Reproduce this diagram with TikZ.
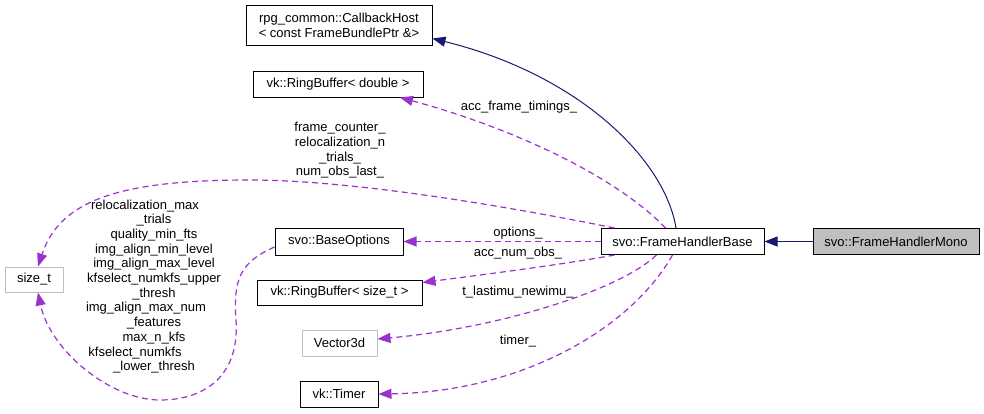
\documentclass[tikz,border=0pt]{standalone}
\usepackage{fontspec}
\setmainfont{Liberation Sans}
\usetikzlibrary{arrows.meta,calc}
\definecolor{navyedge}{HTML}{191970}
\definecolor{purpleedge}{HTML}{9A32CD}
\definecolor{grayline}{HTML}{BFBFBF}
\begin{document}
\begin{tikzpicture}[x=1pt,y=-1pt,
  every node/.style={font=\fontsize{13}{14.7}\selectfont},
  cls/.style={draw=black,line width=1pt,rectangle,inner sep=0pt,align=center},
  extcls/.style={draw=grayline,line width=1pt,rectangle,inner sep=0pt,align=center},
  inherit/.style={draw=navyedge,line width=1pt,-{Triangle[length=13pt,width=10pt]}},
  member/.style={draw=purpleedge,line width=1.2pt,dash pattern=on 6pt off 4pt,-{Triangle[length=13pt,width=10pt]}},
  lbl/.style={inner sep=0pt,align=center}]
\useasboundingbox (0,0) rectangle (984,413);
% nodes
\node[cls,minimum width=186pt,minimum height=40pt] (cb) at (339,25) {rpg\_common::CallbackHost\\\textless{} const FrameBundlePtr \&\textgreater};
\node[cls,minimum width=170pt,minimum height=26pt] (rbd) at (338,84) {vk::RingBuffer\textless{} double \textgreater};
\node[extcls,minimum width=58pt,minimum height=25pt] (st) at (34,279.5) {size\_t};
\node[cls,minimum width=128pt,minimum height=27pt] (bo) at (339,241.5) {svo::BaseOptions};
\node[cls,minimum width=163pt,minimum height=26pt] (fhb) at (682.5,241.5) {svo::FrameHandlerBase};
\node[cls,fill=grayline,minimum width=166pt,minimum height=26pt] (fhm) at (896,241.5) {svo::FrameHandlerMono};
\node[cls,minimum width=165pt,minimum height=25pt] (rbs) at (339.5,292.5) {vk::RingBuffer\textless{} size\_t \textgreater};
\node[extcls,minimum width=75pt,minimum height=26pt] (v3) at (339.5,343) {Vector3d};
\node[cls,minimum width=78pt,minimum height=26pt] (tm) at (339,394) {vk::Timer};
% inheritance
\draw[inherit] (fhm.west) -- (fhb.east);
\draw[inherit] ([xshift=-6.5pt]fhb.north) .. controls (665,160) and (580,75) .. ([yshift=7pt]cb.south east);
% members
\draw[member] ([xshift=-17pt]fhb.north) .. controls (620,180) and (520,130) .. ([xshift=62pt]rbd.south);
\draw[member] ([xshift=14pt]fhb.north west) .. controls (500,205) and (350,180) .. (250,180)
   .. controls (120,180) and (60,200) .. ([xshift=4pt]st.north);
\draw[member] (fhb.west) -- (bo.east);
\draw[member] ([xshift=14pt]fhb.south west) .. controls (560,265) and (480,275) .. ([yshift=-3pt]rbs.north east);
\draw[member] ([xshift=56pt]fhb.south west) .. controls (620,290) and (500,328) .. ([yshift=4pt]v3.east);
\draw[member] ([xshift=72pt]fhb.south west) .. controls (630,330) and (520,392) .. (tm.east);
\draw[member] ([yshift=-5.5pt]bo.west) .. controls (240,262) and (233,280) .. (236,320)
   .. controls (240,380) and (200,400) .. (160,400)
   .. controls (110,400) and (50,350) .. ([xshift=4pt]st.south);
% labels
\node[lbl] (l1) at (519,107) {acc\_frame\_timings\_};
\node[lbl] (l2) at (340,150.5) {frame\_counter\_\\relocalization\_n\\\_trials\_\\num\_obs\_last\_};
\node[lbl] (l3) at (518,233) {options\_};
\node[lbl] (l4) at (518,253) {acc\_num\_obs\_};
\node[lbl] (l5) at (518,292) {t\_lastimu\_newimu\_};
\node[lbl] (l6) at (518,341) {timer\_};
\node[lbl] (l7) at (154,286.5) {relocalization\_max\hbox to 18pt{}\\\_trials\\quality\_min\_fts\\img\_align\_min\_level\\img\_align\_max\_level\\kfselect\_numkfs\_upper\\\_thresh\\img\_align\_max\_num\hbox to 16pt{}\\\_features\\max\_n\_kfs\\kfselect\_numkfs\hbox to 38pt{}\\\_lower\_thresh};
\end{tikzpicture}
\end{document}
